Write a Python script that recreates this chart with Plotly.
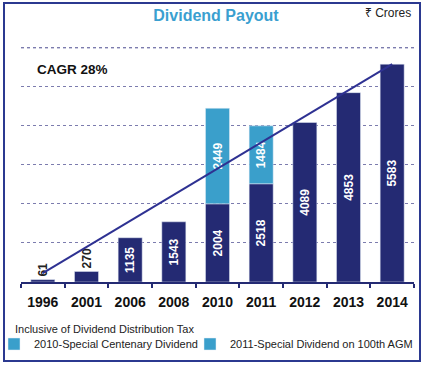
import plotly.graph_objects as go

years = ["1996", "2001", "2006", "2008", "2010", "2011", "2012", "2013", "2014"]
regular = [61, 270, 1135, 1543, 2004, 2518, 4089, 4853, 5583]
special_2010_year = ["2010"]
special_2010 = [2449]
special_2011_year = ["2011"]
special_2011 = [1484]
trend_years = ["1996", "2014"]
trend_values = [230, 5583]
grid_step = 1000
grid_max = 6000

NAVY = "#242a73"
LIGHT = "#3a9fcb"
GRID = "#7c7cae"
FONT = "Liberation Sans, Arial, Noto Sans, DejaVu Sans, sans-serif"

W, H = 425, 366
L, R, T, B = 21, 11, 44, 84
PW, PH = W - L - R, H - T - B


def px_x(p):
    return (p - L) / PW


def px_y(p):
    return (H - B - p) / PH


fig = go.Figure()

fig.add_trace(go.Bar(
    x=years, y=regular, marker_color=NAVY, showlegend=False,
    text=[str(v) for v in regular],
    textposition=["outside" if v < 500 else "inside" for v in regular],
    insidetextanchor="middle", textangle=-90, constraintext="none",
    insidetextfont=dict(color="white", size=12, family=FONT, weight="bold"),
    outsidetextfont=dict(color="#222222", size=12, family=FONT, weight="bold"),
    cliponaxis=False,
))

base_lookup = dict(zip(years, regular))
fig.add_trace(go.Bar(
    x=special_2010_year, y=special_2010, base=[base_lookup[y] for y in special_2010_year],
    marker_color=LIGHT, name="2010-Special Centenary Dividend", legend="legend",
    text=[str(v) for v in special_2010], textposition="inside", insidetextanchor="middle",
    textangle=-90, constraintext="none",
    insidetextfont=dict(color="white", size=12, family=FONT, weight="bold"),
))
fig.add_trace(go.Bar(
    x=special_2011_year, y=special_2011, base=[base_lookup[y] for y in special_2011_year],
    marker_color=LIGHT, name="2011-Special Dividend on 100th AGM", legend="legend2",
    text=[str(v) for v in special_2011], textposition="inside", insidetextanchor="middle",
    textangle=-90, constraintext="none",
    insidetextfont=dict(color="white", size=12, family=FONT, weight="bold"),
))

fig.add_trace(go.Scatter(
    x=trend_years, y=trend_values, mode="lines",
    line=dict(color="#2e3192", width=2), showlegend=False, hoverinfo="skip",
))

legend_common = dict(
    orientation="h", xref="paper", yref="paper", xanchor="left", yanchor="middle",
    y=px_y(344), font=dict(size=11, color="#222222"), bgcolor="rgba(0,0,0,0)",
)

fig.update_layout(
    width=W, height=H,
    margin=dict(l=L, r=R, t=T, b=B, autoexpand=False),
    paper_bgcolor="white", plot_bgcolor="white",
    barmode="overlay", bargap=0.45,
    font=dict(family=FONT, color="#222222", size=12),
    title=dict(text="<b>Dividend Payout</b>", x=216 / W, xanchor="center",
               y=1 - 15 / H, yanchor="middle", xref="container", yref="container",
               font=dict(size=16, color="#3a9fd0", family=FONT)),
    showlegend=True,
    legend=dict(x=px_x(-6), **legend_common),
    legend2=dict(x=px_x(190), **legend_common),
    xaxis=dict(
        type="category", categoryorder="array", categoryarray=years,
        showline=True, linecolor=NAVY, linewidth=1.5,
        ticks="outside", tickson="boundaries", ticklen=4, tickcolor=NAVY, tickwidth=1.5,
        tickfont=dict(size=14, color="#111111", family=FONT, weight="bold"),
        ticklabelstandoff=6,
        showgrid=False, fixedrange=True,
    ),
    yaxis=dict(
        range=[0, 6100], tickmode="linear", tick0=0, dtick=grid_step,
        showticklabels=False, zeroline=False,
        showgrid=True, gridcolor=GRID, griddash="3px,3px", gridwidth=1,
        showline=False, fixedrange=True,
    ),
    annotations=[
        dict(text="<b>CAGR 28%</b>", xref="paper", yref="paper",
             x=px_x(35), y=px_y(70), xanchor="left", yanchor="middle",
             showarrow=False, font=dict(size=13.5, color="#111111")),
        dict(text="₹ Crores", xref="paper", yref="paper",
             x=px_x(413), y=px_y(13), xanchor="right", yanchor="middle",
             showarrow=False, font=dict(size=12, color="#222222")),
        dict(text="Inclusive of Dividend Distribution Tax", xref="paper", yref="paper",
             x=px_x(13), y=px_y(329), xanchor="left", yanchor="middle",
             showarrow=False, font=dict(size=11, color="#222222")),
    ],
    shapes=[
        dict(type="line", xref="paper", yref="y", x0=0, x1=1, y0=grid_max, y1=grid_max,
             line=dict(color=GRID, width=1, dash="3px,3px"), layer="below"),
        dict(type="rect", xref="paper", yref="paper",
             x0=px_x(4), x1=px_x(420), y0=px_y(361), y1=px_y(3),
             line=dict(color="#2b3990", width=2), layer="above"),
    ],
)

fig.write_html("out.html", config={"displayModeBar": False},
               post_script="document.body.style.margin='0';")
